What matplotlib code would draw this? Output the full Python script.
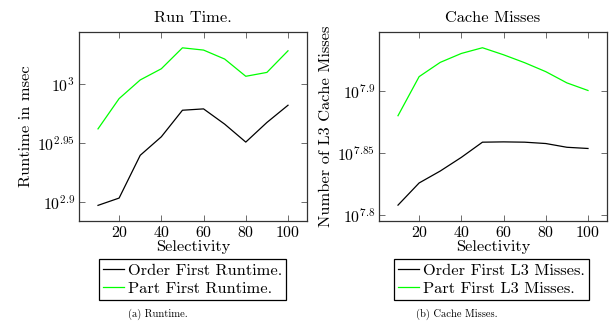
import matplotlib
matplotlib.use("Agg")
import matplotlib.pyplot as plt
from matplotlib.ticker import FixedLocator, FuncFormatter, NullLocator
import numpy as np

plt.rcParams['font.family'] = 'serif'
plt.rcParams['font.serif'] = ['cmr10']
plt.rcParams['mathtext.fontset'] = 'cm'
plt.rcParams['axes.formatter.use_mathtext'] = True

selectivity = [10, 20, 30, 40, 50, 60, 70, 80, 90, 100]

# runtime in msec
order_runtime = [789.3, 800.6, 870.2, 902.2, 950.1, 952.6, 924.7, 892.9, 927.7, 959.4]
part_runtime = [916.2, 971.9, 1007.9, 1030.1, 1073.0, 1068.3, 1049.8, 1015.1, 1022.8, 1066.8]

# L3 cache misses
order_misses = [64.24e6, 66.94e6, 68.44e6, 70.20e6, 72.21e6, 72.25e6, 72.21e6, 72.03e6, 71.53e6, 71.37e6]
part_misses = [75.85e6, 81.56e6, 83.75e6, 85.15e6, 86.06e6, 84.94e6, 83.70e6, 82.32e6, 80.62e6, 79.49e6]

runtime_ticks = [2.9, 2.95, 3.0]
misses_ticks = [7.8, 7.85, 7.9]
x_ticks = [20, 40, 60, 80, 100]

W, H = 613, 327
FS = 11.8
TFS = 11.4
fig = plt.figure(figsize=(W / 100, H / 100), dpi=100)


def exp_label(v, pos):
    e = np.log10(v)
    s = ('%.2f' % e).rstrip('0').rstrip('.')
    return r'$10^{%s}$' % s


def setup(ax, exps, lo, hi):
    ax.set_yscale('log')
    ax.set_xlim(1, 109)
    ax.set_ylim(10 ** lo, 10 ** hi)
    ax.xaxis.set_major_locator(FixedLocator(x_ticks))
    ax.yaxis.set_major_locator(FixedLocator([10 ** e for e in exps]))
    ax.yaxis.set_major_formatter(FuncFormatter(exp_label))
    ax.yaxis.set_minor_locator(NullLocator())
    ax.tick_params(which='both', direction='in', top=True, right=True,
                   length=4, width=0.6, labelsize=TFS, color='#555555', pad=3)
    for s in ax.spines.values():
        s.set_linewidth(0.9)
        s.set_color('#333333')
    ax.set_xlabel('Selectivity', fontsize=FS, labelpad=0)


def add_legend(ax, left):
    leg = ax.legend(loc='upper left', bbox_to_anchor=(left / W, 1 - 259 / H),
                    bbox_transform=fig.transFigure, fontsize=FS, frameon=True,
                    fancybox=False, edgecolor='black', framealpha=1,
                    handlelength=1.3, handletextpad=0.2, borderpad=0.25,
                    labelspacing=0.25, borderaxespad=0)
    leg.get_frame().set_linewidth(0.9)


ax1 = fig.add_axes([79 / W, 1 - 221 / H, 228 / W, 189 / H])
setup(ax1, runtime_ticks, 2.884, 3.044)
ax1.plot(selectivity, order_runtime, color='black', lw=0.9, label='Order First Runtime.')
ax1.plot(selectivity, part_runtime, color='#00ff00', lw=0.9, label='Part First Runtime.')
ax1.set_title('Run Time.', fontsize=FS, pad=7)
ax1.set_ylabel('Runtime in msec', fontsize=FS, labelpad=3)
add_legend(ax1, 99)

ax2 = fig.add_axes([379 / W, 1 - 221 / H, 228 / W, 189 / H])
setup(ax2, misses_ticks, 7.795, 7.9475)
ax2.plot(selectivity, order_misses, color='black', lw=0.9, label='Order First L3 Misses.')
ax2.plot(selectivity, part_misses, color='#00ff00', lw=0.9, label='Part First L3 Misses.')
ax2.set_title('Cache Misses', fontsize=FS, pad=7)
ax2.set_ylabel('Number of L3 Cache Misses', fontsize=FS, labelpad=3)
add_legend(ax2, 394)

fig.text(158 / W, 1 - 314 / H, '(a) Runtime.', ha='center', va='center', fontsize=7.6)
fig.text(457 / W, 1 - 314 / H, '(b) Cache Misses.', ha='center', va='center', fontsize=7.6)

fig.savefig('out.png', dpi=100)
